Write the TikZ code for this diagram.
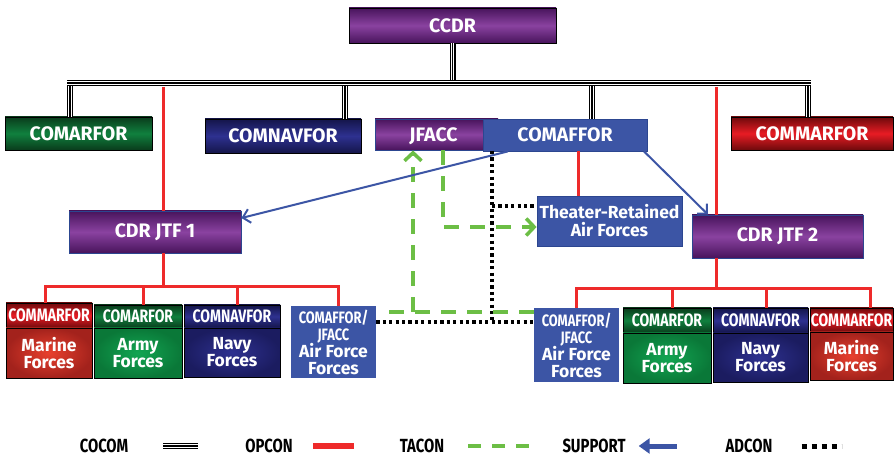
\documentclass[tikz,border=0pt]{standalone}
\usepackage{fontspec}
\setmainfont{Fira Sans}
\newfontfamily\narrowfont[FakeStretch=0.78]{Fira Sans}
\usetikzlibrary{arrows.meta, calc}
\definecolor{cpurple}{RGB}{138,66,160}
\definecolor{cpurpled}{RGB}{72,20,92}
\definecolor{cgreen}{RGB}{16,128,62}
\definecolor{cgreend}{RGB}{10,60,28}
\definecolor{cnavy}{RGB}{46,49,144}
\definecolor{cnavyd}{RGB}{20,21,74}
\definecolor{cred}{RGB}{232,28,36}
\definecolor{credd}{RGB}{110,10,12}
\definecolor{cblue}{RGB}{60,85,165}
\definecolor{cblued}{RGB}{44,70,144}
\definecolor{opred}{RGB}{238,42,42}
\definecolor{tacgreen}{RGB}{108,190,69}
\definecolor{armyin}{RGB}{18,165,82}
\definecolor{armyout}{RGB}{10,120,56}
\definecolor{navyin}{RGB}{46,49,144}
\definecolor{navyout}{RGB}{27,28,96}
\definecolor{marin}{RGB}{232,64,46}
\definecolor{marout}{RGB}{163,34,28}

\begin{document}
\begin{tikzpicture}[
    x=1pt, y=-1pt,
    font=\bfseries\fontsize{19.5}{19.5}\selectfont,
    box/.style={draw=black, line width=0.8pt, inner sep=0pt, align=center, text=white},
    purplebox/.style={box, top color=cpurpled, bottom color=cpurpled, middle color=cpurple},
    greenbox/.style={box, top color=cgreend, bottom color=cgreend, middle color=cgreen},
    navybox/.style={box, top color=cnavyd, bottom color=cnavyd, middle color=cnavy},
    redbox/.style={box, top color=credd, bottom color=credd, middle color=cred},
    bluebox/.style={box, draw=cblued, fill=cblue},
    hdr/.style={font=\narrowfont\bfseries\fontsize{18}{18}\selectfont},
    body/.style={box, font=\bfseries\fontsize{17.5}{17}\selectfont},
    armybody/.style={body, inner color=armyin, outer color=armyout},
    navybody/.style={body, inner color=navyin, outer color=navyout},
    marbody/.style={body, inner color=marin, outer color=marout},
    afjbox/.style={bluebox, draw=none, font=\bfseries\fontsize{17.5}{17}\selectfont},
    legend/.style={inner sep=1pt, text=black, font=\narrowfont\bfseries\fontsize{19}{19}\selectfont},
    cocom/.style={line width=6pt, black, postaction={draw, white, line width=3.8pt}, postaction={draw, black, line width=1.4pt}},
    opcon/.style={line width=3pt, opred},
    tacon/.style={line width=3.5pt, tacgreen, dash pattern=on 15pt off 11pt},
    support/.style={line width=2pt, cblue, -{Straight Barb[length=7pt, width=14pt]}},
    adcon/.style={line width=3.2pt, black, dash pattern=on 3.2pt off 3.2pt}
]
\useasboundingbox (0,0) rectangle (895,457);

% Top level
\node[purplebox, minimum width=207, minimum height=35] (ccdr) at (452.5,25.5) {CCDR};

% Component commanders
\node[greenbox, minimum width=147, minimum height=33] (marforA) at (78.5,133.5) {COMARFOR};
\node[navybox, minimum width=156, minimum height=34] (navforA) at (283,136) {COMNAVFOR};
\node[purplebox, draw=cblued, minimum width=123, minimum height=31, text depth=0pt] (jfacc) at (436.5,134.5) {\hspace*{-6pt}JFACC};
\node[bluebox, minimum width=164, minimum height=32] (comaffor) at (565,135) {COMAFFOR};
\node[redbox, minimum width=162, minimum height=33] (commarfor) at (812,133.5) {COMMARFOR};

% Joint task forces
\node[purplebox, draw=cblued, minimum width=172, minimum height=42] (jtfA) at (155,232) {CDR JTF 1};
\node[bluebox, minimum width=145, minimum height=50, font=\bfseries\fontsize{17.5}{18}\selectfont] (theater) at (609.5,221) {Theater-Retained\\Air Forces};
\node[purplebox, draw=cblued, minimum width=171, minimum height=43] (jtfB) at (777.5,236.5) {CDR JTF 2};

% JTF 1 forces
\node[redbox, hdr, minimum width=86, minimum height=25] (mfAh) at (49,315.5) {COMMARFOR};
\node[marbody, minimum width=86, minimum height=50] (mfA) at (49,353) {Marine\\Forces};
\node[greenbox, hdr, minimum width=88, minimum height=23] (afAh) at (138,316.5) {COMARFOR};
\node[armybody, minimum width=88, minimum height=50] (afA) at (138,353) {Army\\Forces};
\node[navybox, hdr, minimum width=96, minimum height=23] (nfAh) at (232,316.5) {COMNAVFOR};
\node[navybody, minimum width=96, minimum height=49] (nfA) at (232,352.5) {Navy\\Forces};
\node[afjbox, minimum width=85, minimum height=72] (afjA) at (333.5,342)
  {{\narrowfont\fontsize{16.5}{15}\selectfont COMAFFOR/}\\{\narrowfont\fontsize{16.5}{16}\selectfont JFACC}\\Air Force\\Forces};

% JTF 2 forces
\node[afjbox, minimum width=85, minimum height=74] (afjB) at (576.5,345)
  {{\narrowfont\fontsize{16.5}{15}\selectfont COMAFFOR/}\\{\narrowfont\fontsize{16.5}{16}\selectfont JFACC}\\Air Force\\Forces};
\node[greenbox, hdr, minimum width=88, minimum height=25] (afBh) at (667,320.5) {COMARFOR};
\node[armybody, minimum width=88, minimum height=50] (afB) at (667,358) {Army\\Forces};
\node[navybox, hdr, minimum width=95, minimum height=25] (nfBh) at (760.5,320.5) {COMNAVFOR};
\node[navybody, minimum width=95, minimum height=49] (nfB) at (760.5,357.5) {Navy\\Forces};
\node[redbox, hdr, minimum width=83, minimum height=24] (mfBh) at (851.5,320) {COMMARFOR};
\node[marbody, minimum width=83, minimum height=48] (mfB) at (851.5,356) {Marine\\Forces};

% COCOM
\coordinate (busL) at (70,83);
\coordinate (busR) at (808,83);
\draw[cocom] (busL) -- (busL |- marforA.north);
\draw[cocom] ([xshift=62]navforA.north |- busL) -- ([xshift=62]navforA.north);
\draw[cocom] ([xshift=27]comaffor.north |- busL) -- ([xshift=27]comaffor.north);
\draw[cocom] (busR) -- (busR |- commarfor.north);
\draw[cocom] (ccdr.south) -- (ccdr.south |- busL);
\draw[cocom] ([xshift=-3]busL) -- ([xshift=3]busR);

% OPCON
\coordinate (opA) at (163,87);
\coordinate (opB) at (716,87);
\coordinate (opbusA) at (163,287);
\coordinate (opbusB) at (716,289);
\draw[opcon] (opA) -- (opA |- jtfA.north);
\draw[opcon] (opB) -- (opB |- jtfB.north);
\draw[opcon] (opbusA |- jtfA.south) -- (opbusA);
\draw[opcon] (opbusB |- jtfB.south) -- (opbusB);
\draw[opcon] ([xshift=-4]mfAh.north) |- (opbusA) -| ([xshift=4.5]afjA.north);
\draw[opcon] ([xshift=5]afAh.north) -- ([xshift=5]afAh.north |- opbusA);
\draw[opcon] ([xshift=5]nfAh.north) -- ([xshift=5]nfAh.north |- opbusA);
\draw[opcon] (afjB.north) |- (opbusB) -| ([xshift=18.5]mfBh.north);
\draw[opcon] ([xshift=5]afBh.north) -- ([xshift=5]afBh.north |- opbusB);
\draw[opcon] ([xshift=5.5]nfBh.north) -- ([xshift=5.5]nfBh.north |- opbusB);
\draw[opcon] ([xshift=13]comaffor.south) -- ([xshift=13]comaffor.south |- theater.north);

% ADCON
\coordinate (adV) at (492,151);
\draw[adcon] ([yshift=20]afjA.east) -- ([yshift=23]afjB.west);
\draw[adcon] (adV) -- (adV |- 0,320);
\draw[adcon] (adV |- 0,206) -- ([yshift=15]theater.west);

% TACON
\coordinate (tacL) at (387,312);
\draw[tacon] ([yshift=33]afjB.west) -- (tacL);
\draw[tacon, -{Straight Barb[length=8pt, width=17pt]}] ([xshift=-23.5]jfacc.south |- tacL) -- ([xshift=-23.5]jfacc.south);
\draw[tacon, -{Straight Barb[length=8pt, width=17pt]}] ([xshift=6.5]jfacc.south) |- ([yshift=-6]theater.west);

% SUPPORT
\draw[support] ([xshift=-57]comaffor.south) -- ([yshift=14]jtfA.east);
\draw[support] ([xshift=79]comaffor.south) -- ([xshift=-69.5]jtfB.north);

% Legend
\node[legend] (lgCocom) at (104,446) {COCOM};
\node[legend] (lgOpcon) at (269,446) {OPCON};
\node[legend] (lgTacon) at (422,446) {TACON};
\node[legend] (lgSupport) at (594,446) {SUPPORT};
\node[legend] (lgAdcon) at (749,446) {ADCON};
\draw[cocom] ([xshift=34]lgCocom.east) -- ++(35,0);
\draw[opcon, line width=6pt] ([xshift=19]lgOpcon.east) -- ++(41,0);
\draw[tacon, dash pattern=on 13pt off 11pt] ([xshift=23]lgTacon.east) -- ++(70,0);
\draw[line width=5pt, cblue, {Triangle[length=11pt, width=15pt]}-] ([xshift=12]lgSupport.east) -- ++(38,0);
\draw[adcon, line width=5pt, dash pattern=on 5pt off 5pt] ([xshift=28]lgAdcon.east) -- ++(40,0);

\end{tikzpicture}
\end{document}
